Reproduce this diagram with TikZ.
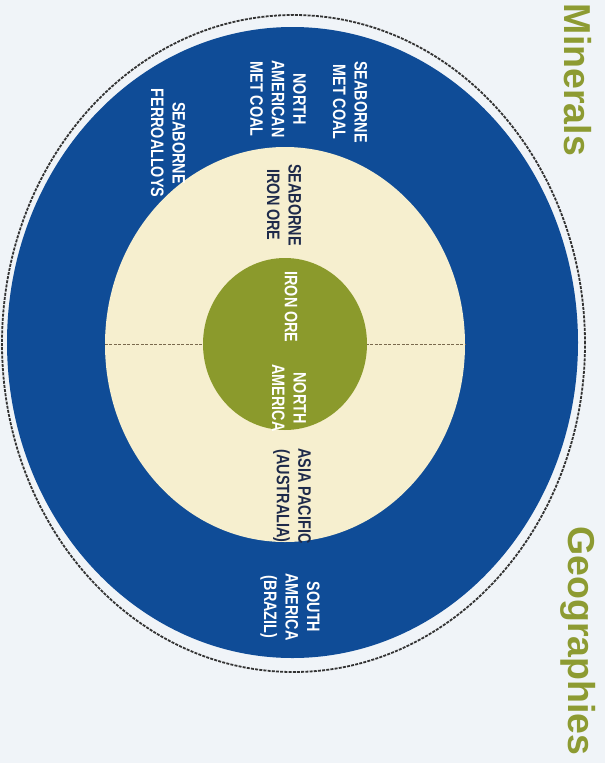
\documentclass[tikz,border=0pt]{standalone}
\usepackage{fontspec}
\setmainfont{Liberation Sans}
\newfontfamily\labelfont{Liberation Sans}[FakeStretch=0.8]
\usetikzlibrary{shapes.geometric}
\definecolor{ringblue}{HTML}{0F4C97}
\definecolor{cream}{HTML}{F6EFCF}
\definecolor{olive}{HTML}{8B9A2C}
\definecolor{headolive}{HTML}{8D9B32}
\definecolor{navy}{HTML}{1E2A4A}
\definecolor{seam}{HTML}{7A6A4E}
\definecolor{bgpale}{HTML}{F0F4F8}

\tikzset{
  disc/.style={ellipse,inner sep=0pt},
  ringlabel/.style={rotate=-90,align=center,text=white,font=\labelfont\bfseries\fontsize{18}{21.5}\selectfont},
  corelabel/.style={ringlabel,text=navy},
  heading/.style={rotate=-90,text=headolive,font=\bfseries\fontsize{37.5}{40}\selectfont}
}

\begin{document}
\begin{tikzpicture}[x=1pt,y=-1pt]
\fill[bgpale] (0,0) rectangle (605,763);
\useasboundingbox (0,0) rectangle (605,763);
% rings
\node[disc,draw=black!80,dash pattern=on 3pt off 1.2pt,line width=1.8pt,minimum width=583pt,minimum height=657pt] (edge) at (293.5,343.5){};
\node[disc,fill=ringblue,minimum width=571pt,minimum height=631pt] (outer) at (292.5,342.5){};
\node[disc,fill=cream,minimum width=360pt,minimum height=395pt] (middle) at (285,344.5){};
\draw[seam,dash pattern=on 3pt off 1.5pt,line width=1pt] (middle.west)--(middle.east);
\node[disc,fill=olive,minimum width=164pt,minimum height=172pt] (core) at (285,344){};
% outer ring labels
\node[ringlabel] (metcoal) at (350,102){SEABORNE\\MET COAL};
\node[ringlabel] (namcoal) at (278,99){NORTH\\AMERICAN\\MET COAL};
\node[ringlabel] (ferro) at (168,143){SEABORNE\\FERROALLOYS};
\node[ringlabel] (brazil) at (290,607){SOUTH\\AMERICA\\(BRAZIL)};
% middle ring labels
\node[corelabel] (seaore) at (284,205){SEABORNE\\IRON ORE};
\node[corelabel] (asia) at (292,496){ASIA PACIFIC\\(AUSTRALIA)};
% core labels
\node[ringlabel] (ironore) at (291,307){IRON ORE};
\node[ringlabel] (northam) at (289,398){NORTH\\AMERICA};
% headings
\node[heading] (minerals) at (578,80){Minerals};
\node[heading] (geo) at (578,641){Geographies};
\end{tikzpicture}
\end{document}
